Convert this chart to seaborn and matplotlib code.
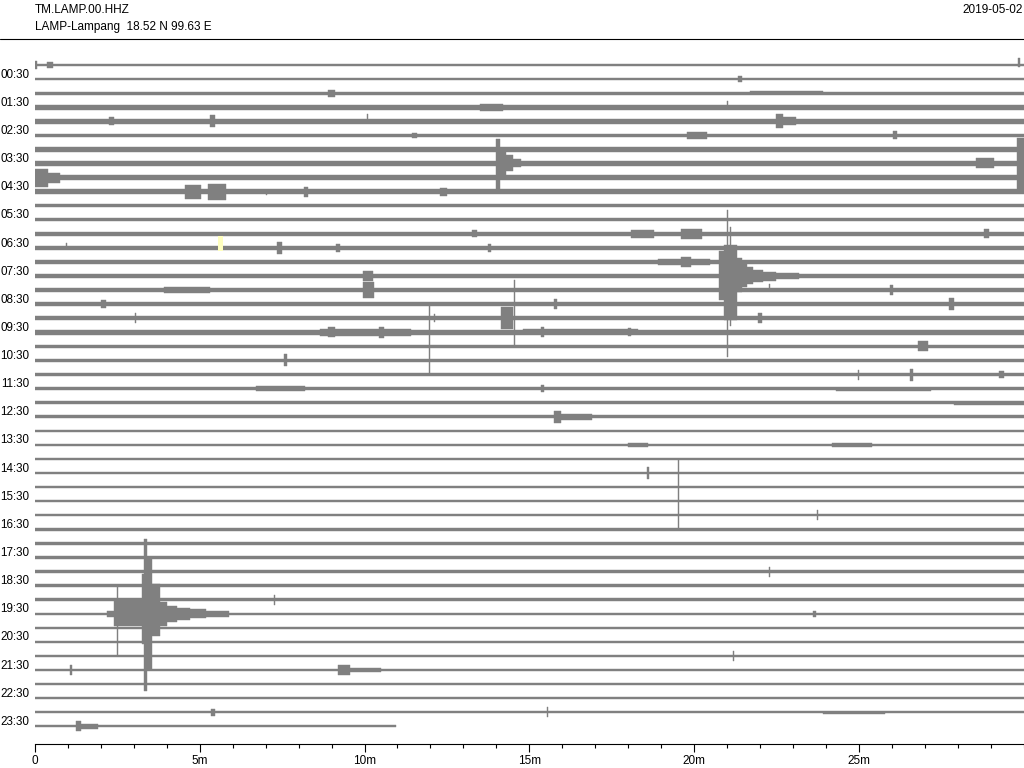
import matplotlib
matplotlib.use("Agg")
import matplotlib.pyplot as plt
from matplotlib.lines import Line2D
from matplotlib.patches import Rectangle
from matplotlib.ticker import MultipleLocator
import seaborn as sns

sns.set_theme(style="white", rc={"axes.edgecolor": "black", "text.color": "black",
                                 "xtick.color": "black", "ytick.color": "black"})
plt.rcParams['font.family'] = ['Liberation Sans', 'DejaVu Sans']

# header text
station = "TM.LAMP.00.HHZ"
location = "LAMP-Lampang  18.52 N 99.63 E"
day = "2019-05-02"

# one trace per half hour, labels on the odd rows
hour_labels = ["00:30", "01:30", "02:30", "03:30", "04:30", "05:30", "06:30", "07:30",
               "08:30", "09:30", "10:30", "11:30", "12:30", "13:30", "14:30", "15:30",
               "16:30", "17:30", "18:30", "19:30", "20:30", "21:30", "22:30", "23:30"]
label_rows = [1, 3, 5, 7, 9, 11, 13, 15, 17, 19, 21, 23, 25, 27, 29, 31,
              33, 35, 37, 39, 41, 43, 45, 47]

xtick_vals = [0, 5, 10, 15, 20, 25]
xtick_labels = ["0", "5m", "10m", "15m", "20m", "25m"]

# background noise half width of each trace (pixels)
noise_px = [1.4, 1.4, 1.5, 2.3, 2.3, 1.8, 2.3, 2.3, 2.3, 2.4,
            1.4, 1.5, 2.0, 2.2, 2.2, 2.2, 2.2, 2.2, 2.0, 2.2,
            1.5, 1.4, 1.4, 1.5, 1.4, 1.4, 1.3, 1.3, 1.3, 1.3,
            1.3, 1.3, 1.2, 1.2, 1.2, 1.2, 1.2, 1.2, 1.2, 1.2,
            1.2, 1.2, 1.2, 1.2, 1.2, 1.2, 1.2, 1.2]

# last trace stops early (minutes)
trace_end = {47: 10.95}

# (row, start min, end min, amplitude up px, amplitude down px)
events = [
    (0, 0.0, 0.05, 4, 4), (0, 0.35, 0.55, 3, 3), (0, 29.84, 29.88, 7, 2),
    (1, 21.35, 21.45, 3, 3),
    (2, 8.9, 9.1, 3.5, 3.5), (2, 21.7, 23.9, 2.0, 2.0),
    (3, 13.5, 14.2, 3.5, 3.5), (3, 15.9, 17.2, 2.6, 2.6), (3, 21.0, 21.04, 6, 2),
    (4, 2.25, 2.4, 4, 4), (4, 5.3, 5.45, 6, 6), (4, 10.08, 10.12, 7, 2),
    (4, 22.5, 22.7, 7, 7), (4, 22.7, 23.1, 4, 4),
    (5, 11.45, 11.6, 2.5, 2.5), (5, 19.8, 20.4, 3.5, 3.5), (5, 26.05, 26.15, 4, 4),
    (6, 14.85, 17.8, 2.6, 2.6),
    (7, 14.0, 14.12, 24, 27), (7, 14.12, 14.3, 14, 14), (7, 14.3, 14.5, 8, 8),
    (7, 14.5, 14.75, 4, 4), (7, 28.55, 29.1, 5, 5), (7, 29.8, 30.0, 25, 27),
    (8, 0.0, 0.4, 9, 9), (8, 0.4, 0.75, 5, 5),
    (9, 4.55, 5.05, 7, 7), (9, 5.25, 5.8, 8, 8), (9, 7.0, 7.05, 3, 3),
    (9, 8.15, 8.3, 5, 5), (9, 12.3, 12.5, 4, 4),
    (12, 13.25, 13.4, 3.5, 3.5), (12, 18.1, 18.8, 4, 4), (12, 19.6, 20.25, 5, 5),
    (12, 28.8, 28.95, 4.5, 4.5),
    (13, 0.94, 0.98, 5, 2), (13, 7.35, 7.5, 6, 6), (13, 9.15, 9.25, 4, 4),
    (13, 13.75, 13.85, 4, 4),
    (14, 18.9, 20.5, 3.3, 3.3), (14, 19.6, 19.9, 5, 5),
    (15, 9.95, 10.25, 5, 5),
    (15, 20.75, 20.9, 25, 24), (15, 20.9, 21.0, 31, 44), (15, 21.0, 21.04, 66, 81),
    (15, 21.04, 21.3, 31, 44), (15, 21.08, 21.12, 49, 50), (15, 21.3, 21.45, 18, 16),
    (15, 21.45, 21.6, 12, 11), (15, 21.6, 21.8, 9, 8), (15, 21.8, 22.1, 6, 6),
    (15, 22.1, 22.5, 4.5, 4.5), (15, 22.5, 23.2, 3.3, 3.3),
    (16, 3.9, 5.3, 3, 3), (16, 9.95, 10.3, 8, 8), (16, 22.28, 22.32, 6, 2),
    (16, 25.95, 26.05, 5, 5),
    (17, 2.0, 2.15, 4, 4), (17, 15.75, 15.85, 5, 5), (17, 27.75, 27.9, 6, 6),
    (18, 3.04, 3.08, 5, 5), (18, 12.1, 12.15, 4, 4), (18, 14.15, 14.5, 11, 11),
    (18, 14.53, 14.57, 38, 29), (18, 21.95, 22.05, 5, 5),
    (19, 8.65, 11.4, 3.3, 3.3), (19, 8.9, 9.1, 5, 5), (19, 10.45, 10.6, 5.5, 5.5),
    (19, 11.95, 11.99, 27, 43), (19, 14.8, 18.3, 2.9, 2.9), (19, 15.35, 15.45, 5, 5),
    (19, 18.0, 18.1, 4, 4),
    (20, 26.8, 27.1, 5, 5),
    (21, 7.55, 7.65, 6, 6),
    (22, 24.98, 25.02, 5, 5), (22, 26.55, 26.65, 6, 6), (22, 29.25, 29.4, 3.5, 3.5),
    (23, 6.7, 8.2, 2.3, 2.3), (23, 15.35, 15.45, 3.5, 3.5), (23, 24.3, 27.2, 2.0, 2.0),
    (24, 27.9, 30.0, 2.0, 2.0),
    (25, 15.75, 15.95, 6, 6), (25, 15.95, 16.9, 3, 3),
    (27, 18.0, 18.6, 2.1, 2.1), (27, 24.2, 25.4, 2.1, 2.1),
    (29, 18.58, 18.62, 6, 6),
    (30, 19.5, 19.54, 27, 41),
    (32, 23.73, 23.77, 5, 5),
    (36, 22.28, 22.32, 5, 5),
    (38, 7.25, 7.29, 5, 5),
    (39, 2.2, 2.4, 3, 3), (39, 2.4, 3.25, 15, 12), (39, 2.48, 2.52, 29, 41),
    (39, 3.25, 3.32, 40, 30), (39, 3.32, 3.4, 75, 77), (39, 3.4, 3.55, 55, 55),
    (39, 3.55, 3.8, 30, 22), (39, 3.8, 4.0, 12, 12), (39, 4.0, 4.3, 8, 8),
    (39, 4.3, 4.7, 6, 6), (39, 4.7, 5.2, 4.5, 4.5), (39, 5.2, 5.9, 3, 3),
    (39, 23.6, 23.7, 3, 3),
    (42, 21.18, 21.22, 5, 5),
    (43, 1.07, 1.11, 5, 5), (43, 9.2, 9.55, 5, 5), (43, 9.55, 10.5, 2.3, 2.3),
    (46, 5.35, 5.45, 3.5, 3.5), (46, 15.53, 15.57, 5, 5), (46, 23.9, 25.8, 1.7, 1.7),
    (47, 1.25, 1.4, 5, 5), (47, 1.4, 1.9, 2.5, 2.5),
]

# pale yellow marker (row, start min, end min)
highlight = (13, 5.55, 5.71)

trace_color = "#808080"
row_px = 14.07  # pixel height of one row

fig = plt.figure(figsize=(10.24, 7.68), dpi=100)
ax = fig.add_axes([35 / 1024, 1 - 744 / 768, 988.5 / 1024, 704 / 768])

for row in range(len(noise_px)):
    end = trace_end.get(row, 30.0)
    evs = [e for e in events if e[0] == row]
    edges = sorted({0.0, end} | {e[1] for e in evs} | {e[2] for e in evs})
    up, dn = [], []
    for a in edges[:-1]:
        u = d = noise_px[row]
        for _, t0, t1, eu, ed in evs:
            if t0 <= a < t1:
                u, d = max(u, eu), max(d, ed)
        up.append(u)
        dn.append(d)
    up.append(up[-1])
    dn.append(dn[-1])
    lower = [row - v / row_px for v in up]
    upper = [row + v / row_px for v in dn]
    ax.fill_between(edges, lower, upper, step="post", color=trace_color,
                    linewidth=0.3, edgecolor=trace_color)

hr, h0, h1 = highlight
ax.add_patch(Rectangle((h0, hr - 0.83), h1 - h0, 1.07, facecolor="#ffffbf",
                       edgecolor="none", zorder=3))

ax.set_xlim(0, 30)
ax.set_ylim((744 - 65) / row_px, (40 - 65) / row_px)
ax.set_xticks(xtick_vals)
ax.set_xticklabels(xtick_labels, fontsize=8.5)
ax.xaxis.set_minor_locator(MultipleLocator(1))
ax.tick_params(axis="x", which="major", bottom=True, length=6, width=0.8,
               direction="out", pad=2)
ax.tick_params(axis="x", which="minor", bottom=True, length=3, width=0.8,
               direction="out")
ax.set_yticks([r - 0.42 for r in label_rows])
ax.set_yticklabels(hour_labels, fontsize=8.4)
ax.tick_params(axis="y", length=0, pad=4)
sns.despine(ax=ax, left=True, top=True, right=True)
ax.spines["bottom"].set_linewidth(0.8)
ax.grid(False)

fig.text(35 / 1024, 1 - 10 / 768, station, ha="left", va="center", fontsize=8.5)
fig.text(35 / 1024, 1 - 27 / 768, location, ha="left", va="center", fontsize=8.5)
fig.text(1023 / 1024, 1 - 10 / 768, day, ha="right", va="center", fontsize=8.5)
fig.add_artist(Line2D([0, 1], [1 - 39 / 768, 1 - 39 / 768], color="black", lw=0.8))

fig.savefig("out.png", dpi=100)
